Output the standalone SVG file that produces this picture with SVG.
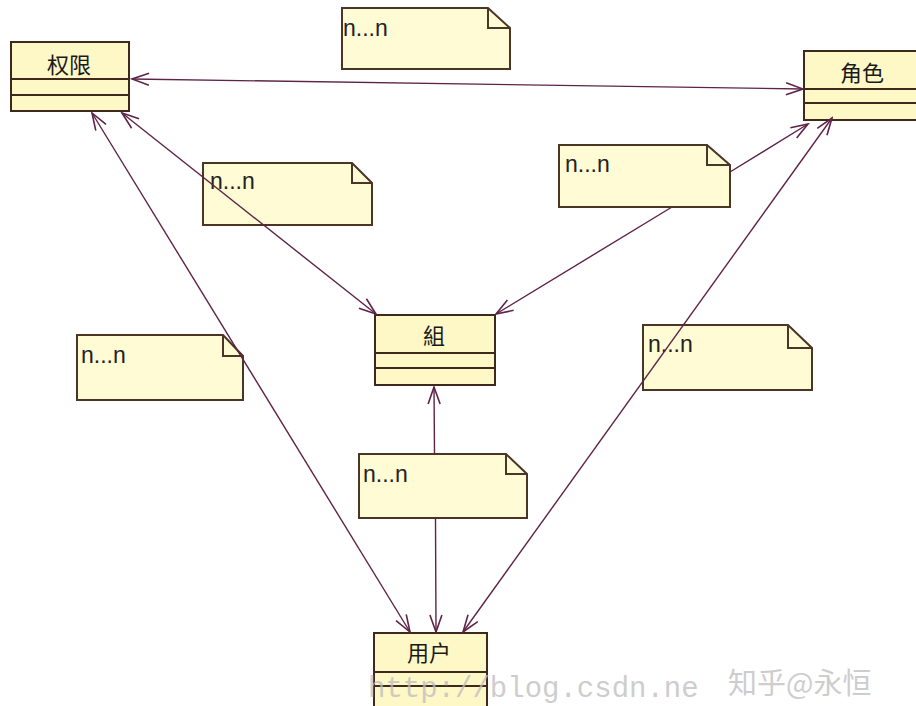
<svg xmlns="http://www.w3.org/2000/svg" width="916" height="706" viewBox="0 0 916 706">
<defs>
<style>
.cls{fill:#fdf8c6;stroke:#3d2a1c;stroke-width:2}
.sep{stroke:#3d2a1c;stroke-width:2;fill:none}
.note{fill:#fffbd4;stroke:#4a3526;stroke-width:2}
.fold{fill:none;stroke:#4a3526;stroke-width:2}
.name{font-family:"Noto Sans CJK SC","Noto Sans CJK TC",sans-serif;font-size:22px;fill:#1a1a1a;text-anchor:middle}
.nt{font-family:"Liberation Sans",Arial,sans-serif;font-size:23px;fill:#222}
.conn{fill:none;stroke:#5e2447;stroke-width:1.4;marker-start:url(#arr);marker-end:url(#arr)}
.wm{fill:#bdbdbd;opacity:0.75}
</style>
<marker id="arr" viewBox="0 0 20 14" markerUnits="userSpaceOnUse" markerWidth="20" markerHeight="14" refX="18" refY="7" orient="auto-start-reverse">
<path d="M1,1 L18,7 L1,13" fill="none" stroke="#5e2447" stroke-width="1.6"/>
</marker>
</defs>
<rect width="916" height="706" fill="#ffffff"/>

<g id="note-1">
<path class="note" d="M342,8 L488,8 L510,28 L510,69 L342,69 Z"/>
<path class="fold" d="M488,8 L488,28 L510,28"/>
<text class="nt" x="343" y="36">n...n</text>
</g>
<g id="note-3">
<path class="note" d="M559,145 L707,145 L730,165 L730,207 L559,207 Z"/>
<path class="fold" d="M707,145 L707,165 L730,165"/>
<text class="nt" x="565" y="172">n...n</text>
</g>
<g id="note-6">
<path class="note" d="M359,454 L506,454 L527,474 L527,518 L359,518 Z"/>
<path class="fold" d="M506,454 L506,474 L527,474"/>
<text class="nt" x="363" y="482">n...n</text>
</g>
<g id="note-2">
<path class="note" d="M203,163 L352,163 L372,183 L372,225 L203,225 Z"/>
<path class="fold" d="M352,163 L352,183 L372,183"/>
<text class="nt" x="210" y="189">n...n</text>
</g>
<g id="note-4">
<path class="note" d="M77,335 L223,335 L243,356 L243,400 L77,400 Z"/>
<path class="fold" d="M223,335 L223,356 L243,356"/>
<text class="nt" x="81" y="363">n...n</text>
</g>
<g id="note-5">
<path class="note" d="M643,325 L788,325 L812,348 L812,390 L643,390 Z"/>
<path class="fold" d="M788,325 L788,348 L812,348"/>
<text class="nt" x="648" y="352">n...n</text>
</g>

<g id="class-quanxian">
<rect class="cls" x="11" y="42" width="118" height="69"/>
<path class="sep" d="M11,79 H129 M11,95 H129"/>
<text class="name" x="69" y="73">权限</text>
</g>
<g id="class-juese">
<rect class="cls" x="804" y="51" width="122" height="69"/>
<path class="sep" d="M804,89 H926 M804,103 H926"/>
<text class="name" x="862" y="81">角色</text>
</g>
<g id="class-zu">
<rect class="cls" x="375" y="315" width="120" height="70"/>
<path class="sep" d="M375,353 H495 M375,368 H495"/>
<text class="name" x="434" y="344">組</text>
</g>
<g id="class-yonghu">
<rect class="cls" x="374" y="633" width="113" height="80"/>
<path class="sep" d="M374,672 H487 M374,686 H487"/>
<text class="name" x="429" y="661">用户</text>
</g>

<g id="connectors">
<path class="conn" d="M132,79 L803,89"/>
<path class="conn" d="M122,113 L376,314"/>
<path class="conn" d="M92,113 L410,632"/>
<path class="conn" d="M832,118 L463,632"/>
<path class="conn" d="M808,124 L730,172 M672,207 L496,314"/>
<path class="conn" d="M434,387 L434.5,454 M435.5,518 L436,632"/>
</g>

<g id="watermark" class="wm">
<text x="368" y="697" font-family="Liberation Mono,monospace" font-size="29">http://blog.csdn.ne</text>
<text x="728" y="694" font-family="Noto Sans CJK SC,sans-serif" font-size="29">知乎@永恒</text>
</g>
</svg>
